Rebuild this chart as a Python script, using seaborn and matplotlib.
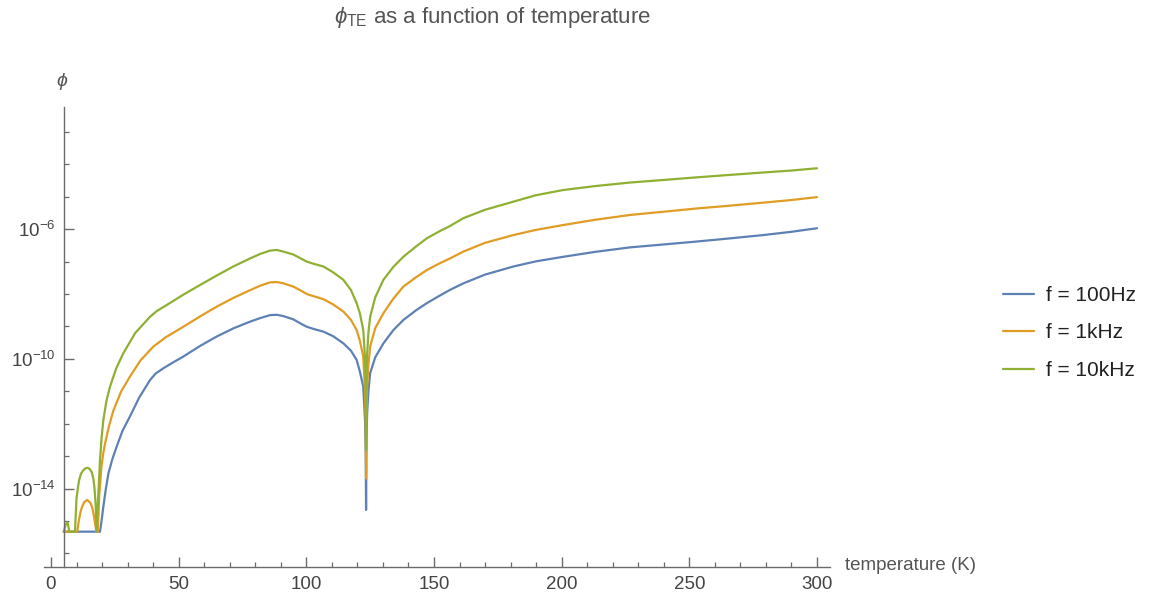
import numpy as np
import pandas as pd
import matplotlib
matplotlib.use("Agg")
import matplotlib.pyplot as plt
from matplotlib.ticker import FixedLocator, NullFormatter, FixedFormatter
from matplotlib.lines import Line2D
import seaborn as sns

# ---------------- data (temperature in K, log10 of phi) ----------------
series_labels = ["f = 100Hz", "f = 1kHz", "f = 10kHz"]
series_colors = ["#5E81B5", "#E19C24", "#8FB032"]

t_100Hz = [5, 19.2, 19.8, 20.5, 21.5, 22.5, 24, 25.7, 28, 30.9, 34.5, 38.8, 41,
           44, 48, 51.8, 58.4, 64.9, 71.4, 78, 82, 85.8, 88.5, 91, 94.9, 98,
           100.2, 103, 106.7, 110.5, 114.5, 117.5, 119.7, 121, 122.3, 123.0,
           123.25, 123.4, 123.55, 123.8, 124.3, 125, 127, 130.2, 134, 138, 143,
           147.2, 152, 156.3, 161.5, 170, 181.1, 190, 200.7, 213, 226.8, 240,
           252.9, 265, 279, 290, 300]
logphi_100Hz = [-15.33, -15.33, -15.0, -14.56, -14.0, -13.53, -13.1, -12.71,
                -12.22, -11.78, -11.2, -10.65, -10.45, -10.29, -10.1, -9.93,
                -9.60, -9.31, -9.06, -8.85, -8.74, -8.65, -8.64, -8.68, -8.78,
                -8.92, -9.01, -9.08, -9.16, -9.30, -9.52, -9.75, -10.03, -10.4,
                -10.86, -11.9, -12.8, -14.66, -12.6, -11.7, -11.0, -10.44,
                -9.95, -9.52, -9.12, -8.80, -8.50, -8.28, -8.06, -7.87, -7.67,
                -7.40, -7.15, -6.99, -6.85, -6.70, -6.56, -6.47, -6.38, -6.29,
                -6.18, -6.08, -5.97]

t_1kHz = [5, 10.3, 10.7, 11, 11.5, 12, 13, 14.2, 15.5, 16.2, 16.7, 17.3, 17.8,
          18.3, 18.9, 19.8, 20.5, 21.2, 22.8, 24.4, 27.5, 30.9, 35, 40.1, 45,
          51.8, 58.4, 64.9, 71.4, 78, 82, 85.8, 88.5, 91, 94.9, 98, 100.2, 103,
          106.7, 110.5, 114.5, 117.5, 119.7, 121, 122.3, 123.0, 123.25, 123.4,
          123.55, 123.8, 124.3, 125, 127, 130.2, 134, 138, 143, 147.2, 152,
          156.3, 161.5, 170, 181.1, 190, 200.7, 213, 226.8, 240, 252.9, 265,
          279, 290, 300]
logphi_1kHz = [-15.33, -15.33, -15.1, -14.95, -14.75, -14.6, -14.42, -14.35,
               -14.45, -14.6, -14.8, -15.1, -15.33, -15.33, -14.2, -13.3, -12.9,
               -12.6, -12.05, -11.6, -11.0, -10.55, -10.05, -9.62, -9.33, -9.01,
               -8.69, -8.39, -8.12, -7.88, -7.74, -7.64, -7.63, -7.67, -7.77,
               -7.90, -8.0, -8.07, -8.16, -8.32, -8.54, -8.80, -9.11, -9.45,
               -9.93, -11.0, -11.9, -13.69, -11.7, -10.9, -10.2, -9.62, -9.05,
               -8.59, -8.15, -7.77, -7.48, -7.26, -7.06, -6.90, -6.69, -6.42,
               -6.18, -6.02, -5.87, -5.71, -5.56, -5.46, -5.36, -5.28, -5.18,
               -5.10, -5.01]

t_10kHz = [5, 5.8, 6.5, 7.2, 9.4, 9.7, 10, 10.5, 11, 11.7, 12.5, 13.4, 14.4,
           15.2, 16, 16.6, 17, 17.5, 17.9, 18.4, 19.2, 19.8, 20.5, 21.7, 23.1,
           25.5, 28.3, 33, 38.8, 41.5, 45.3, 51.8, 58.4, 64.9, 71.4, 78, 82,
           85.8, 88.5, 91, 94.9, 98, 100.2, 103, 106.7, 110.5, 114.5, 117.5,
           119.7, 121, 122.3, 123.0, 123.25, 123.4, 123.55, 123.8, 124.3, 125,
           127, 130.2, 134, 138, 143, 147.2, 152, 156.3, 161.5, 170, 181.1, 190,
           200.7, 213, 226.8, 240, 252.9, 265, 279, 290, 300]
logphi_10kHz = [-15.33, -15.1, -15.05, -15.33, -15.33, -14.8, -14.3, -14.0,
                -13.75, -13.55, -13.45, -13.38, -13.36, -13.4, -13.5, -13.7,
                -13.95, -14.5, -15.33, -14.4, -13.12, -12.45, -11.89, -11.3,
                -10.86, -10.3, -9.83, -9.2, -8.70, -8.52, -8.34, -8.02, -7.72,
                -7.43, -7.15, -6.90, -6.76, -6.66, -6.64, -6.69, -6.78, -6.91,
                -7.0, -7.07, -7.15, -7.33, -7.56, -7.88, -8.28, -8.6, -9.11,
                -10.0, -10.9, -12.82, -10.7, -9.9, -9.2, -8.70, -8.10, -7.56,
                -7.17, -6.85, -6.53, -6.28, -6.07, -5.90, -5.66, -5.40, -5.15,
                -4.95, -4.79, -4.67, -4.56, -4.48, -4.40, -4.33, -4.25, -4.19,
                -4.12]

x_ticks = [0, 50, 100, 150, 200, 250, 300]
y_tick_exps = [-14, -10, -6]

# ---------------- build long-form table ----------------
frames = []
for lab, t, lp in zip(series_labels,
                      [t_100Hz, t_1kHz, t_10kHz],
                      [logphi_100Hz, logphi_1kHz, logphi_10kHz]):
    frames.append(pd.DataFrame({"T": t, "phi": 10.0 ** np.array(lp), "series": lab}))
df = pd.concat(frames, ignore_index=True)

# ---------------- style ----------------
sns.set_style("white")
plt.rcParams["font.family"] = ["Liberation Sans", "DejaVu Sans"]
plt.rcParams["mathtext.fontset"] = "custom"
plt.rcParams["mathtext.rm"] = "Liberation Sans"
plt.rcParams["mathtext.it"] = "Liberation Sans:italic"

axis_col = "#6b6b6b"
text_col = "#555555"

fig = plt.figure(figsize=(11.53, 5.93), dpi=100)
ax = fig.add_axes([44 / 1153, 26 / 593, 786 / 1153, 460 / 593])

sns.lineplot(data=df, x="T", y="phi", hue="series", hue_order=series_labels,
             palette=series_colors, estimator=None, sort=False, lw=1.6, ax=ax)
ax.set_yscale("log")

ax.set_xlim(-2.74, 305.1)
ax.set_ylim(10 ** -16.42, 10 ** -2.23)

# Mathematica-like axes
for s in ["top", "right"]:
    ax.spines[s].set_visible(False)
ax.spines["left"].set_position(("data", 5))
for s in ["left", "bottom"]:
    ax.spines[s].set_color(axis_col)
    ax.spines[s].set_linewidth(1.0)

ax.xaxis.set_major_locator(FixedLocator(x_ticks))
ax.xaxis.set_minor_locator(FixedLocator([v for v in range(0, 301, 10) if v % 50 != 0]))
ax.set_xticklabels([str(v) for v in x_ticks])

ax.yaxis.set_major_locator(FixedLocator([10.0 ** e for e in y_tick_exps]))
ax.yaxis.set_major_formatter(FixedFormatter([r"$10^{%d}$" % e for e in y_tick_exps]))
ax.yaxis.set_minor_locator(FixedLocator([10.0 ** e for e in range(-16, -2) if e not in y_tick_exps]))
ax.yaxis.set_minor_formatter(NullFormatter())

ax.tick_params(bottom=True, left=True, top=False, right=False, which="both")
ax.tick_params(axis="both", which="major", direction="in", length=7, width=1.0,
               color=axis_col, labelcolor="#444444", labelsize=13.5)
ax.tick_params(axis="both", which="minor", direction="in", length=3.5, width=0.9,
               color=axis_col)
ax.tick_params(axis="x", which="major", pad=6.5)
ax.tick_params(axis="y", which="major", pad=6)

ax.set_xlabel("")
ax.set_ylabel("")

# texts
fig.text(493 / 1153, 1 - 18 / 593, r"$\phi_{\mathrm{TE}}$ as a function of temperature",
         ha="center", va="center", fontsize=16, color=text_col)
fig.text(62 / 1153, 1 - 82 / 593, r"$\phi$", ha="center", va="center",
         fontsize=14, color=text_col)
fig.text(845 / 1153, 1 - 566 / 593, "temperature (K)", ha="left", va="center",
         fontsize=13.5, color=text_col)

# legend outside on the right
leg = ax.get_legend()
if leg is not None:
    leg.remove()
handles = [Line2D([0], [0], color=c, lw=1.6) for c in series_colors]
fig.legend(handles, series_labels, loc="center left",
           bbox_to_anchor=(984 / 1153, 1 - 333 / 593), frameon=False,
           fontsize=15, handlelength=1.5, handletextpad=0.6, labelspacing=0.88,
           labelcolor="#222222")

fig.savefig("out.png", dpi=100)
